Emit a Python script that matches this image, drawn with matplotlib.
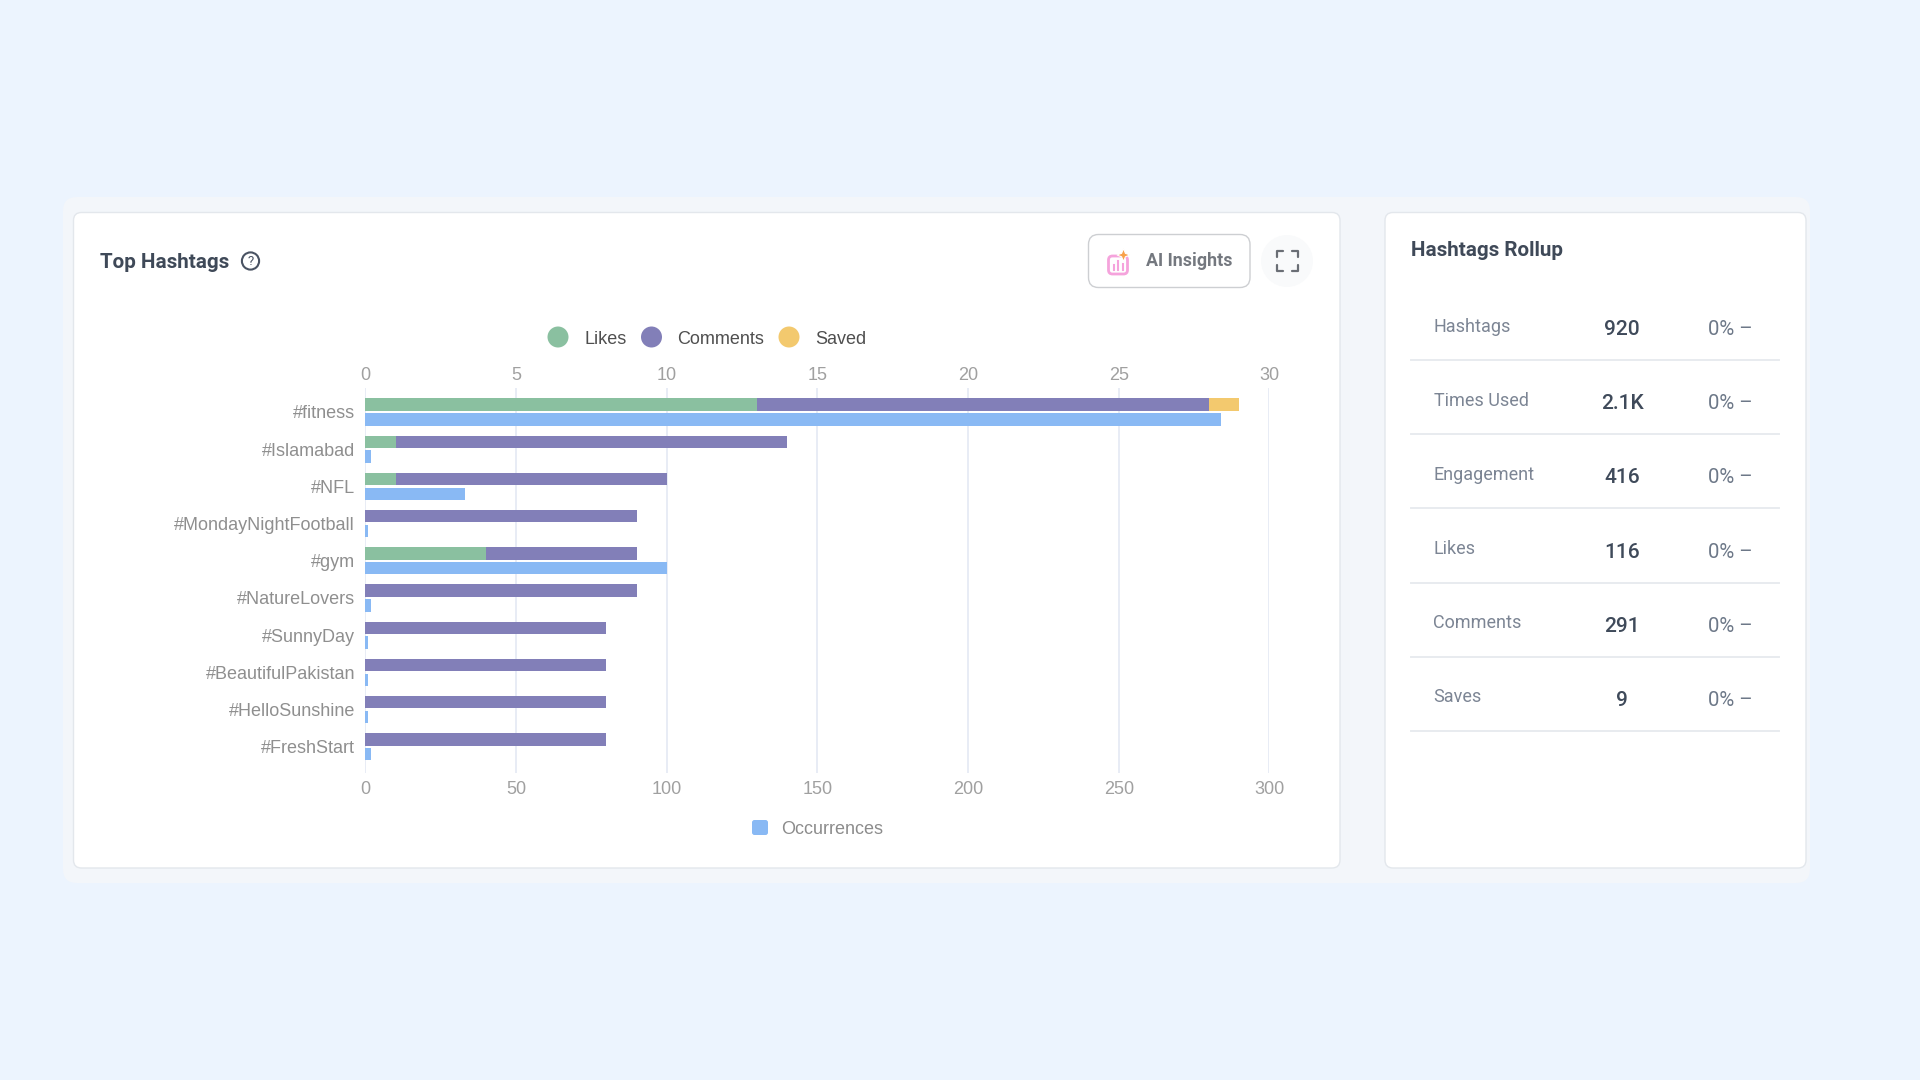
#!/usr/bin/env python3
"""Top hashtags dashboard panel: stacked engagement bars over occurrence bars, plus a rollup card."""
import matplotlib

matplotlib.use("Agg")
import matplotlib.pyplot as plt
from matplotlib.patches import Circle, FancyBboxPatch, Polygon

# chart data
hashtags = [
    "#fitness",
    "#Islamabad",
    "#NFL",
    "#MondayNightFootball",
    "#gym",
    "#NatureLovers",
    "#SunnyDay",
    "#BeautifulPakistan",
    "#HelloSunshine",
    "#FreshStart",
]
likes = [13, 1, 1, 0, 4, 0, 0, 0, 0, 0]
comments = [15, 13, 9, 9, 5, 9, 8, 8, 8, 8]
saved = [1, 0, 0, 0, 0, 0, 0, 0, 0, 0]
occurrences = [284, 2, 33, 1, 100, 2, 1, 1, 1, 2]
engagement_ticks = [0, 5, 10, 15, 20, 25, 30]
occurrence_ticks = [0, 50, 100, 150, 200, 250, 300]

# rollup card
rollup_labels = ["Hashtags", "Times Used", "Engagement", "Likes", "Comments", "Saves"]
rollup_values = ["920", "2.1K", "416", "116", "291", "9"]
rollup_changes = ["0% –", "0% –", "0% –", "0% –", "0% –", "0% –"]

GREEN = "#8AC0A0"
PURPLE = "#827FB8"
YELLOW = "#F3C96E"
BLUE = "#89B9F4"
UI = "Roboto"
CHART = "Liberation Sans"
W, H = 1920, 1080

fig = plt.figure(figsize=(19.2, 10.8), dpi=100, facecolor="#ECF4FE")

# page layer in pixel coordinates
bg = fig.add_axes([0, 0, 1, 1], zorder=0)
bg.set_xlim(0, W)
bg.set_ylim(H, 0)
bg.axis("off")


def card(x0, y0, x1, y1, r=8, fc="white", ec="#E3E7EC", lw=1.0, z=1):
    bg.add_patch(
        FancyBboxPatch(
            (x0 + r, y0 + r),
            x1 - x0 - 2 * r,
            y1 - y0 - 2 * r,
            boxstyle=f"round,pad={r},rounding_size={r}",
            fc=fc,
            ec=ec,
            lw=lw,
            zorder=z,
        )
    )


# soft halo behind both cards
card(63, 197, 1810, 883, r=14, fc="#F3F6FA", ec="none", lw=0, z=0.5)
card(73.5, 212.5, 1340, 868)
card(1385, 212.5, 1806, 868)

# header of the chart card
bg.text(100.5, 262, "Top Hashtags", family=UI, weight="bold", fontsize=14.9, color="#3F4958", va="center", zorder=3)
bg.add_patch(Circle((250.5, 261), 8.6, fc="none", ec="#4A5363", lw=1.5, zorder=3))
bg.text(250.5, 261.5, "?", family=UI, fontsize=9.5, color="#4A5363", ha="center", va="center", zorder=3)

# AI Insights button
card(1088.5, 234.5, 1250, 287.5, r=10, fc="white", ec="#CDCFD2", lw=1.0, z=2)
bg.text(1145.5, 261.5, "AI Insights", family=UI, weight="bold", fontsize=12.9, color="#74787F", va="center", zorder=3)
card(1108.5, 256, 1127.5, 274, r=4, fc="none", ec="#F5A3DC", lw=2.0, z=3)
for bx, top_y in zip((1113.5, 1118, 1122.5), (265, 261, 264)):
    bg.plot([bx, bx], [top_y, 270], color="#F5A3DC", lw=1.5, zorder=3)
bg.add_patch(
    Polygon(
        [(1123.5, 248.5), (1125.4, 253.3), (1130, 255), (1125.4, 256.8), (1123.5, 261.5), (1121.6, 256.8), (1117, 255), (1121.6, 253.3)],
        fc="#F8A14A",
        ec="white",
        lw=0.8,
        zorder=4,
    )
)

# fullscreen button
bg.add_patch(Circle((1287, 261), 26, fc="#F9FAFB", ec="none", zorder=2))
for cx, cy, dx, dy in [(1277, 250.5, 1, 1), (1298, 250.5, -1, 1), (1277, 271, 1, -1), (1298, 271, -1, -1)]:
    bg.plot([cx + 6 * dx, cx, cx], [cy, cy, cy + 6 * dy], color="#6A6E75", lw=1.6, zorder=3, solid_capstyle="round")

# legends
for cx, name, tx, color in [(558, "Likes", 584, GREEN), (651.5, "Comments", 677, PURPLE), (789, "Saved", 815.5, YELLOW)]:
    bg.add_patch(Circle((cx, 337), 10.5, fc=color, ec="none", zorder=3))
    bg.text(tx, 339, name, family=CHART, fontsize=12.95, color="#4F4F4F", va="center", zorder=3)
card(752, 820, 768, 835, r=2.5, fc=BLUE, ec="none", lw=0, z=3)
bg.text(781, 829, "Occurrences", family=CHART, fontsize=12.95, color="#8C8C8C", va="center", zorder=3)

# rollup card
bg.text(1411, 250.5, "Hashtags Rollup", family=UI, weight="bold", fontsize=14.9, color="#3F4958", va="center", zorder=3)
row_top = 326.5
row_step = 74.2
for i, (label, value, change) in enumerate(zip(rollup_labels, rollup_values, rollup_changes)):
    y = row_top + i * row_step
    bg.text(1433.5, y, label, family=UI, fontsize=13, color="#7C8594", va="center", zorder=3)
    bg.text(1622, y + 3, value, family=UI, weight="medium", fontsize=15, color="#3F4A5A", ha="center", va="center", zorder=3)
    bg.text(1708, y + 3, change, family=UI, fontsize=14.7, color="#6D7888", va="center", zorder=3)
    bg.plot([1411, 1779], [y + 33.5, y + 33.5], color="#E8EBEF", lw=1.4, zorder=3)

# chart: bottom axis for occurrences, top axis for engagement
AX_L, AX_R, AX_T, AX_B = 365.4, 1269.4, 388, 773
ROW0, PITCH = 412.0, 37.2
ax = fig.add_axes([AX_L / W, 1 - AX_B / H, (AX_R - AX_L) / W, (AX_B - AX_T) / H], zorder=2)
ax.patch.set_alpha(0)
top = ax.twiny()

rows = range(len(hashtags))
up = [r - 0.2 for r in rows]
down = [r + 0.2 for r in rows]
bar_h = 0.335

left_c = likes
left_s = [a + b for a, b in zip(likes, comments)]
top.barh(up, likes, height=bar_h, color=GREEN, zorder=3)
top.barh(up, comments, left=left_c, height=bar_h, color=PURPLE, zorder=3)
top.barh(up, saved, left=left_s, height=bar_h, color=YELLOW, zorder=3)
ax.barh(down, occurrences, height=bar_h, color=BLUE, zorder=3)

ax.set_xlim(0, 300)
top.set_xlim(0, 30)
ax.set_ylim((AX_B - ROW0) / PITCH, (AX_T - ROW0) / PITCH)
ax.set_xticks(occurrence_ticks)
top.set_xticks(engagement_ticks)
ax.set_yticks(list(rows))
ax.set_yticklabels(hashtags, fontfamily=CHART, fontsize=12.95, color="#8F8F8F")
ax.xaxis.grid(True, color="#E6EAF4", lw=1.3, zorder=0)
ax.set_axisbelow(True)
ax.tick_params(axis="y", length=0, pad=7.4)
ax.tick_params(axis="x", length=0, pad=6, labelsize=12.95, labelcolor="#A0A0A0")
top.tick_params(axis="x", length=0, pad=3.2, labelsize=12.95, labelcolor="#A0A0A0")
for lab in ax.get_xticklabels() + top.get_xticklabels():
    lab.set_fontfamily(CHART)
for a in (ax, top):
    for s in a.spines.values():
        s.set_visible(False)

fig.savefig("out.png", dpi=100, facecolor=fig.get_facecolor())
